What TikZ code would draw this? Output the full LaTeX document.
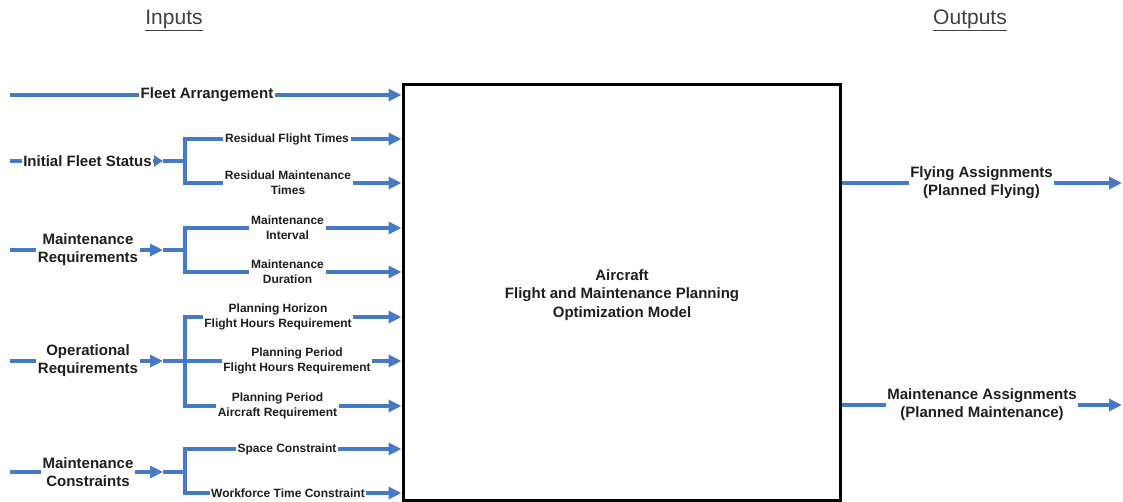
\documentclass[tikz,border=0pt]{standalone}
\usepackage{fontspec}
\setmainfont{Liberation Sans}
\usetikzlibrary{arrows.meta}
\definecolor{flow}{RGB}{70,122,198}
\definecolor{txt}{RGB}{30,30,30}
\begin{document}
\begin{tikzpicture}[x=1pt,y=-1pt,
  line/.style={draw=flow,line width=3.2pt},
  arr/.style={line,-{Triangle[length=13pt,width=12pt]}},
  big/.style={inner sep=1.5pt,align=center,text=txt,font=\fontsize{15}{18}\selectfont\bfseries},
  small/.style={inner sep=1.5pt,align=center,text=txt,font=\fontsize{12}{15}\selectfont\bfseries},
  head/.style={text=txt!85,font=\fontsize{21}{24}\selectfont}]
\useasboundingbox (0,0) rectangle (1123,502);
% headings
\node[head] (hin) at (174,20) {\underline{Inputs}};
\node[head] (hout) at (970,20) {\underline{Outputs}};
% central model
\node[draw=black,line width=3pt,minimum width=437pt,minimum height=415pt,inner sep=0pt] (box) at (621.5,292.5) {};
\node[big,font=\fontsize{15}{18.5}\selectfont\bfseries] (model) at (622,295) {Aircraft\\Flight and Maintenance Planning\\Optimization Model};
% fleet arrangement
\coordinate (fa0) at (10,95);
\node[big] (fa) at (207,95) {Fleet Arrangement};
\draw[line] (fa0) -- (fa.west);
\draw[arr] (fa.east) -- (box.west |- fa.east);
% initial fleet status
\coordinate (ifs0) at (10,161);
\node[big] (ifs) at (87.5,161) {Initial Fleet Status};
\coordinate (s1) at (163,161);
\coordinate (b1) at (185,161);
\draw[line] (ifs0) -- (ifs.west);
\draw[arr,-{Triangle[length=9pt,width=11pt]}] (ifs.east) -- (s1);
\draw[line] (s1) -- (b1);
\node[small] (rft) at (287,139) {Residual Flight Times};
\node[small] (rmt) at (288,183) {Residual Maintenance\\Times};
\draw[line] (b1) |- (rft.west);
\draw[line] (b1) |- (rmt.west);
\draw[arr] (rft.east) -- (box.west |- rft.east);
\draw[arr] (rmt.east) -- (box.west |- rmt.east);
% maintenance requirements
\coordinate (mr0) at (10,250);
\node[big] (mr) at (88,250) {Maintenance\\Requirements};
\coordinate (s2) at (163,250);
\coordinate (b2) at (185,250);
\draw[line] (mr0) -- (mr.west);
\draw[arr] (mr.east) -- (s2);
\draw[line] (s2) -- (b2);
\node[small] (mi) at (287.5,228) {Maintenance\\Interval};
\node[small] (md) at (287.5,272) {Maintenance\\Duration};
\draw[line] (b2) |- (mi.west);
\draw[line] (b2) |- (md.west);
\draw[arr] (mi.east) -- (box.west |- mi.east);
\draw[arr] (md.east) -- (box.west |- md.east);
% operational requirements
\coordinate (or0) at (10,361);
\node[big] (or) at (88,361) {Operational\\Requirements};
\coordinate (s3) at (163,361);
\coordinate (b3) at (185,361);
\draw[line] (or0) -- (or.west);
\draw[arr] (or.east) -- (s3);
\draw[line] (s3) -- (b3);
\node[small] (phf) at (278,317) {Planning Horizon\\Flight Hours Requirement};
\node[small] (ppf) at (297,361) {Planning Period\\Flight Hours Requirement};
\node[small] (ppa) at (277.5,406) {Planning Period\\Aircraft Requirement};
\draw[line] (b3) |- (phf.west);
\draw[line] (b3) -- (ppf.west);
\draw[line] (b3) |- (ppa.west);
\draw[arr] (phf.east) -- (box.west |- phf.east);
\draw[arr] (ppf.east) -- (box.west |- ppf.east);
\draw[arr] (ppa.east) -- (box.west |- ppa.east);
% maintenance constraints
\coordinate (mc0) at (10,472);
\node[big] (mc) at (88,472) {Maintenance\\Constraints};
\coordinate (s4) at (163,472);
\coordinate (b4) at (185,472);
\draw[line] (mc0) -- (mc.west);
\draw[arr] (mc.east) -- (s4);
\draw[line] (s4) -- (b4);
\node[small] (sc) at (287,449) {Space Constraint};
\node[small] (wtc) at (288,493) {Workforce Time Constraint};
\draw[line] (b4) |- (sc.west);
\draw[line] (b4) |- (wtc.west);
\draw[arr] (sc.east) -- (box.west |- sc.east);
\draw[arr] (wtc.east) -- (box.west |- wtc.east);
% outputs
\node[big] (fo) at (981.5,183) {Flying Assignments\\(Planned Flying)};
\node[big] (mo) at (982,405) {Maintenance Assignments\\(Planned Maintenance)};
\coordinate (fo1) at (1122,183);
\coordinate (mo1) at (1122,405);
\draw[line] (box.east |- fo.west) -- (fo.west);
\draw[arr] (fo.east) -- (fo1);
\draw[line] (box.east |- mo.west) -- (mo.west);
\draw[arr] (mo.east) -- (mo1);
\end{tikzpicture}
\end{document}
